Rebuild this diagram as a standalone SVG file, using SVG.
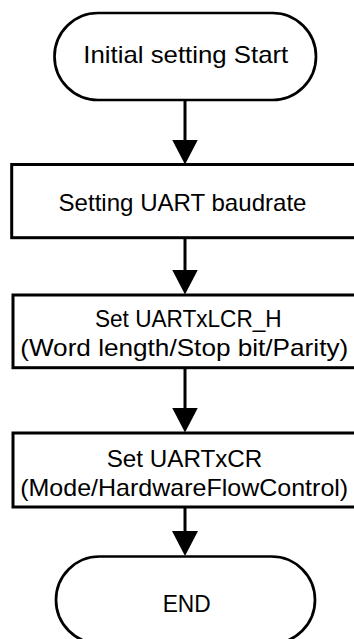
<svg xmlns="http://www.w3.org/2000/svg" width="354" height="639" viewBox="0 0 354 639">
  <style>
    .shape { fill: #ffffff; stroke: #000000; stroke-width: 3; }
    .term { fill: #ffffff; stroke: #000000; stroke-width: 2.7; }
    .lbl { font-family: "Liberation Sans", Arial, sans-serif; font-size: 24px; fill: #000000; text-anchor: middle; }
    .conn { fill: none; stroke: #000000; stroke-width: 3; }
  </style>
  <defs>
    <marker id="ah" markerUnits="userSpaceOnUse" markerWidth="26" markerHeight="26" refX="0.5" refY="13" orient="auto">
      <path d="M0,0 L25,13 L0,26 z" fill="#000000"/>
    </marker>
  </defs>
  <rect width="354" height="639" fill="#ffffff"/>

  <g id="connectors">
    <path class="conn" d="M185,100 V140" marker-end="url(#ah)"/>
    <path class="conn" d="M185,238 V270" marker-end="url(#ah)"/>
    <path class="conn" d="M185,368 V408" marker-end="url(#ah)"/>
    <path class="conn" d="M185,507 V531.5" marker-end="url(#ah)"/>
  </g>

  <g id="start">
    <rect class="term" x="54.5" y="13" width="261.5" height="87" rx="43.5" ry="43.5"/>
    <text class="lbl" x="185.8" y="63.3" textLength="205" lengthAdjust="spacingAndGlyphs">Initial setting Start</text>
  </g>

  <g id="baudrate">
    <rect class="shape" x="11.7" y="164.5" width="360" height="73.2"/>
    <text class="lbl" x="182.5" y="211" textLength="248" lengthAdjust="spacingAndGlyphs">Setting UART baudrate</text>
  </g>

  <g id="lcrh">
    <rect class="shape" x="13" y="295" width="360" height="72.7"/>
    <text class="lbl" x="188.3" y="326.7" textLength="186.7" lengthAdjust="spacingAndGlyphs">Set UARTxLCR_H</text>
    <text class="lbl" x="184.2" y="355.7" textLength="328" lengthAdjust="spacingAndGlyphs">(Word length/Stop bit/Parity)</text>
  </g>

  <g id="cr">
    <rect class="shape" x="13" y="433" width="360" height="74"/>
    <text class="lbl" x="184.5" y="466.7" textLength="155.6" lengthAdjust="spacingAndGlyphs">Set UARTxCR</text>
    <text class="lbl" x="184.2" y="495.7" textLength="328" lengthAdjust="spacingAndGlyphs">(Mode/HardwareFlowControl)</text>
  </g>

  <g id="end">
    <rect class="term" x="56" y="556.5" width="259" height="87" rx="43.5" ry="43.5"/>
    <text class="lbl" x="186.7" y="612.3" textLength="48" lengthAdjust="spacingAndGlyphs">END</text>
  </g>
</svg>
